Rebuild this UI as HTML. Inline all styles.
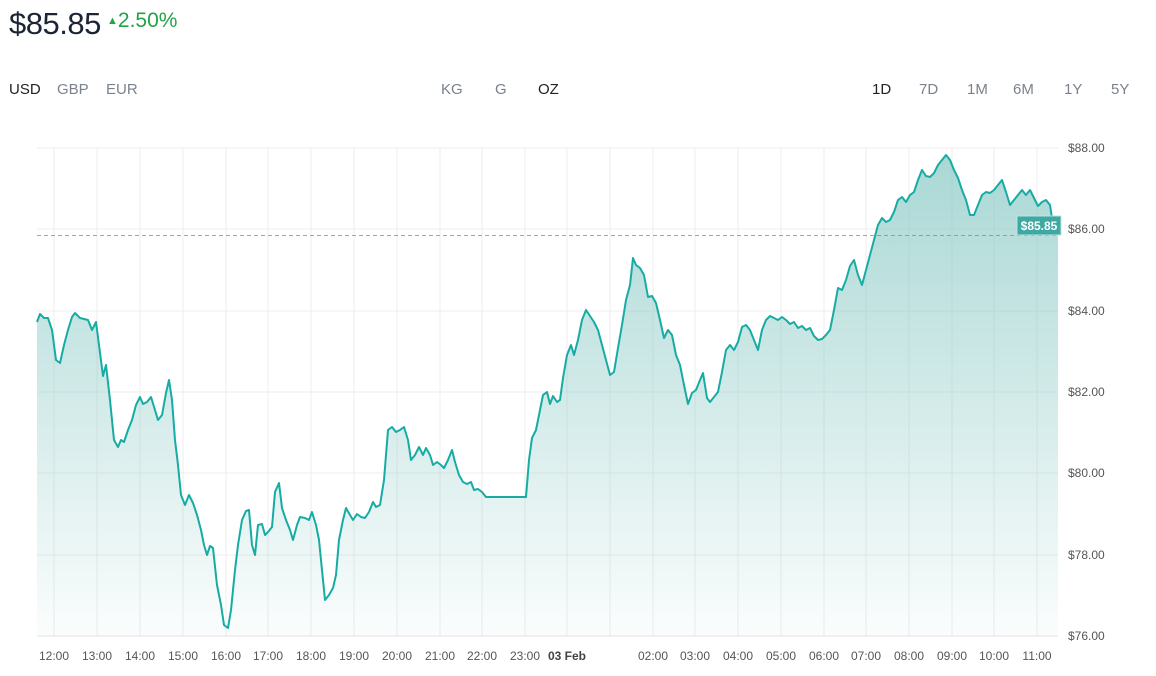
<!DOCTYPE html>
<html><head><meta charset="utf-8"><style>
body{margin:0;width:1156px;height:676px;background:#fff;font-family:"Liberation Sans",sans-serif;position:relative;overflow:hidden}
.t{position:absolute;white-space:nowrap}
</style></head><body>
<div class="t" style="left:9px;top:6px;font-size:31px;color:#1c2536;letter-spacing:-0.5px">$85.85</div>
<div class="t" style="left:107px;top:9px;font-size:21px;color:#22a347"><span style="font-size:11px;vertical-align:3px">▲</span>2.50%</div>
<div class="t" style="left:9px;top:81px;font-size:15px;color:#222">USD</div>
<div class="t" style="left:57px;top:81px;font-size:15px;color:#7a828c">GBP</div>
<div class="t" style="left:106px;top:81px;font-size:15px;color:#7a828c">EUR</div>
<div class="t" style="left:441px;top:81px;font-size:15px;color:#7a828c">KG</div>
<div class="t" style="left:495px;top:81px;font-size:15px;color:#7a828c">G</div>
<div class="t" style="left:538px;top:81px;font-size:15px;color:#222">OZ</div>
<div class="t" style="left:872px;top:81px;font-size:15px;color:#222">1D</div>
<div class="t" style="left:919px;top:81px;font-size:15px;color:#7a828c">7D</div>
<div class="t" style="left:967px;top:81px;font-size:15px;color:#7a828c">1M</div>
<div class="t" style="left:1013px;top:81px;font-size:15px;color:#7a828c">6M</div>
<div class="t" style="left:1064px;top:81px;font-size:15px;color:#7a828c">1Y</div>
<div class="t" style="left:1111px;top:81px;font-size:15px;color:#7a828c">5Y</div>
<svg width="1156" height="676" style="position:absolute;left:0;top:0">
<defs><linearGradient id="g" gradientUnits="userSpaceOnUse" x1="0" y1="150" x2="0" y2="636">
<stop offset="0" stop-color="#8ccac6" stop-opacity="0.75"/><stop offset="1" stop-color="#8ccac6" stop-opacity="0.04"/></linearGradient></defs>
<g stroke="#ececec" stroke-width="1">
<line x1="37" x2="1058" y1="148" y2="148"/><line x1="37" x2="1058" y1="229" y2="229"/><line x1="37" x2="1058" y1="311" y2="311"/><line x1="37" x2="1058" y1="392" y2="392"/><line x1="37" x2="1058" y1="473" y2="473"/><line x1="37" x2="1058" y1="555" y2="555"/>
<line x1="54" x2="54" y1="148" y2="636"/><line x1="97" x2="97" y1="148" y2="636"/><line x1="140" x2="140" y1="148" y2="636"/><line x1="183" x2="183" y1="148" y2="636"/><line x1="226" x2="226" y1="148" y2="636"/><line x1="268" x2="268" y1="148" y2="636"/><line x1="311" x2="311" y1="148" y2="636"/><line x1="354" x2="354" y1="148" y2="636"/><line x1="397" x2="397" y1="148" y2="636"/><line x1="440" x2="440" y1="148" y2="636"/><line x1="482" x2="482" y1="148" y2="636"/><line x1="525" x2="525" y1="148" y2="636"/><line x1="567" x2="567" y1="148" y2="636"/><line x1="610" x2="610" y1="148" y2="636"/><line x1="653" x2="653" y1="148" y2="636"/><line x1="695" x2="695" y1="148" y2="636"/><line x1="738" x2="738" y1="148" y2="636"/><line x1="781" x2="781" y1="148" y2="636"/><line x1="824" x2="824" y1="148" y2="636"/><line x1="866" x2="866" y1="148" y2="636"/><line x1="909" x2="909" y1="148" y2="636"/><line x1="952" x2="952" y1="148" y2="636"/><line x1="994" x2="994" y1="148" y2="636"/><line x1="1037" x2="1037" y1="148" y2="636"/>
</g>
<polygon id="area" fill="url(#g)" points=""/>
<polyline id="ln" fill="none" stroke="#16aca4" stroke-width="2" stroke-linejoin="round" points=""/>
<line x1="37" x2="1058" y1="636" y2="636" stroke="#e3e3e3"/>
<line x1="37" x2="1058" y1="235.5" y2="235.5" stroke="#888" stroke-dasharray="4,3" stroke-width="0.8"/>
<rect x="1017" y="216" width="44" height="19" fill="#3ea9a3" stroke="#bfe3e0"/>
<text x="1039" y="230" text-anchor="middle" font-size="12" font-weight="bold" fill="#fff" font-family="Liberation Sans">$85.85</text>
<g font-size="12" fill="#555" font-family="Liberation Sans">
<text x="1068" y="152">$88.00</text><text x="1068" y="233">$86.00</text><text x="1068" y="315">$84.00</text><text x="1068" y="396">$82.00</text><text x="1068" y="477">$80.00</text><text x="1068" y="559">$78.00</text><text x="1068" y="640">$76.00</text>
</g>
<g font-size="12" fill="#555" font-family="Liberation Sans" text-anchor="middle">
<text x="54" y="660">12:00</text><text x="97" y="660">13:00</text><text x="140" y="660">14:00</text><text x="183" y="660">15:00</text><text x="226" y="660">16:00</text><text x="268" y="660">17:00</text><text x="311" y="660">18:00</text><text x="354" y="660">19:00</text><text x="397" y="660">20:00</text><text x="440" y="660">21:00</text><text x="482" y="660">22:00</text><text x="525" y="660">23:00</text><text x="567" y="660" font-weight="bold" fill="#444">03 Feb</text><text x="653" y="660">02:00</text><text x="695" y="660">03:00</text><text x="738" y="660">04:00</text><text x="781" y="660">05:00</text><text x="824" y="660">06:00</text><text x="866" y="660">07:00</text><text x="909" y="660">08:00</text><text x="952" y="660">09:00</text><text x="994" y="660">10:00</text><text x="1037" y="660">11:00</text>
</g>
</svg>
<script>
var p="37,322 40,314 44,318 48,318 52,330 56,360 60,363 64,345 68,330 72,317 75,313 80,318 88,320 92,330 96,322 99,345 103,376 106,365 110,400 114,440 118,447 121,440 124,442 128,430 132,420 136,405 140,397 143,404 147,402 151,397 155,410 158,420 162,415 166,393 169,380 172,400 175,440 178,465 181,495 185,505 189,495 193,503 197,515 201,530 204,545 207,555 210,546 213,548 217,585 221,605 224,625 228,628 231,610 235,570 238,545 242,520 246,511 249,510 252,545 255,555 258,525 262,524 265,535 268,532 272,527 275,492 279,483 282,508 286,520 290,530 293,540 297,525 300,517 305,518 309,520 312,512 316,525 319,540 322,570 325,600 329,595 333,588 336,575 339,540 343,520 346,508 350,515 353,520 357,514 361,517 365,518 369,512 373,502 376,507 380,505 384,480 388,430 392,427 396,432 400,430 404,427 408,440 411,460 415,455 419,447 423,455 426,448 430,455 433,465 437,462 441,465 444,468 448,460 452,450 455,462 459,475 463,482 467,484 471,482 474,490 478,489 482,492 486,497 490,497 522,497 526,497 529,460 532,438 536,430 540,410 543,395 547,392 550,404 553,396 557,402 560,400 563,378 567,355 571,345 574,355 578,340 582,320 586,310 590,316 594,322 598,330 602,345 606,360 610,375 614,372 618,348 622,325 626,300 630,285 633,258 636,265 640,268 644,275 648,297 652,296 656,303 660,320 664,338 668,330 672,335 676,355 680,365 684,385 688,404 692,393 696,390 700,380 703,373 707,398 710,402 714,397 718,392 722,372 726,350 730,345 734,350 738,342 742,327 746,325 750,330 754,340 758,350 762,330 766,320 770,316 774,318 778,320 782,317 786,320 790,324 794,322 798,328 802,326 806,330 810,328 814,336 818,340 822,339 826,335 830,330 834,310 838,288 842,290 846,280 850,266 854,260 858,275 862,285 866,270 870,255 874,240 878,225 882,218 886,222 890,220 894,212 898,200 902,197 906,202 910,195 914,192 918,180 922,170 926,176 930,177 934,173 938,165 942,160 946,155 950,160 954,170 958,178 962,190 966,200 970,215 974,215 978,205 982,195 986,192 990,193 994,190 998,185 1002,180 1006,192 1010,205 1014,200 1018,195 1022,190 1026,195 1030,190 1034,198 1038,206 1042,202 1046,200 1050,205 1053,225";
document.getElementById('ln').setAttribute('points',p);
document.getElementById('area').setAttribute('points',p+" 1058,236 1058,636 37,636");
</script>
</body></html>
